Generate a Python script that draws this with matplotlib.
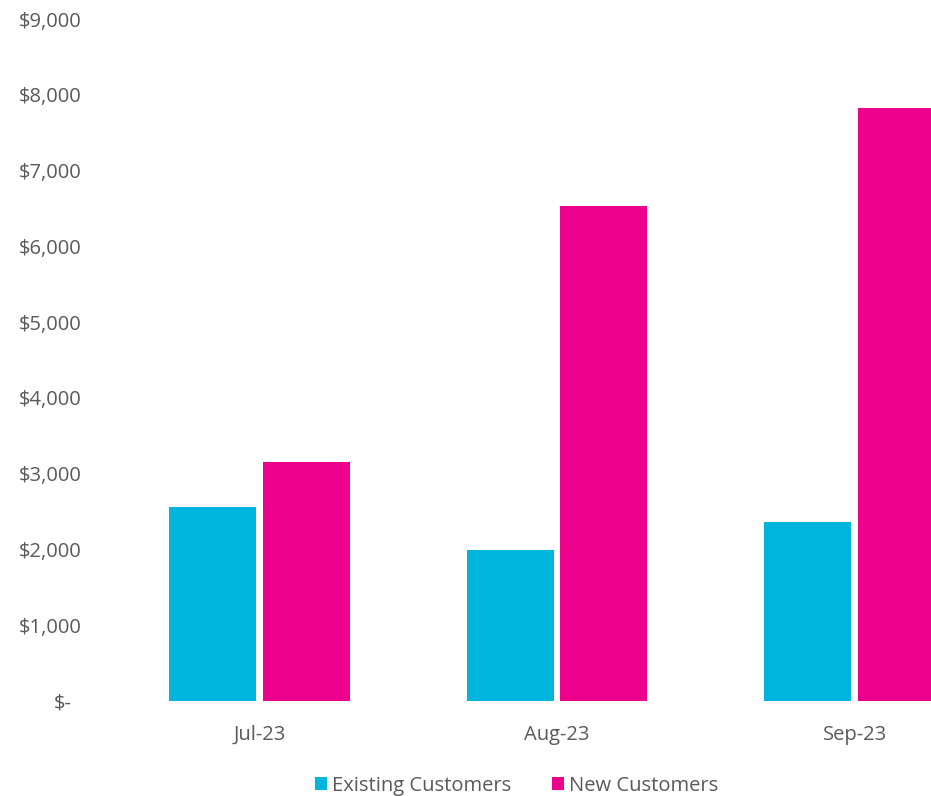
import matplotlib
matplotlib.use("Agg")
import matplotlib.pyplot as plt
import matplotlib.transforms as mtransforms
import numpy as np
from matplotlib.ticker import FuncFormatter

months = ["Jul-23", "Aug-23", "Sep-23"]
existing = [2563, 1992, 2360]
new = [3149, 6534, 7823]
series_names = ["Existing Customers", "New Customers"]
yticks = [0, 1000, 2000, 3000, 4000, 5000, 6000, 7000, 8000, 9000]

c_exist = "#00B4DC"
c_new = "#EC008C"
gray = "#595959"

plt.rcParams['font.family'] = ['Open Sans', 'DejaVu Sans']

fig = plt.figure(figsize=(9.31, 7.96), dpi=100)
ax = fig.add_axes([0.119, 0.1193, 0.9587, 0.8568])

x = np.arange(len(months))
w = 0.292
off = 0.157
ax.bar(x - off, existing, width=w, color=c_exist, label=series_names[0])
ax.bar(x + off, new, width=w, color=c_new, label=series_names[1])

ax.set_xlim(-0.5, len(months) - 0.5)
ax.set_ylim(0, 9000)
ax.set_yticks(yticks)

def fmt(v, pos):
    if v == 0:
        return "$-"
    return "${:,.0f}".format(v)

ax.yaxis.set_major_formatter(FuncFormatter(fmt))
ax.set_xticks(x)
ax.set_xticklabels(months)
for s in ax.spines.values():
    s.set_visible(False)
ax.tick_params(axis='both', length=0, labelsize=14.5, labelcolor=gray)
ax.tick_params(axis='y', pad=21)
ax.tick_params(axis='x', pad=17)

fig.canvas.draw()
labels = ax.get_yticklabels()
# shift "$-" label to mimic accounting-format alignment
labels[0].set_transform(labels[0].get_transform() +
                        mtransforms.ScaledTranslation(-10/100, 0, fig.dpi_scale_trans))

fig.legend(loc='center', bbox_to_anchor=(0.555, 0.013), ncol=2, frameon=False,
           fontsize=14.5, handlelength=0.6, handleheight=0.6, handletextpad=0.25,
           columnspacing=2.0, labelcolor=gray)

fig.savefig("out.png", dpi=100)
